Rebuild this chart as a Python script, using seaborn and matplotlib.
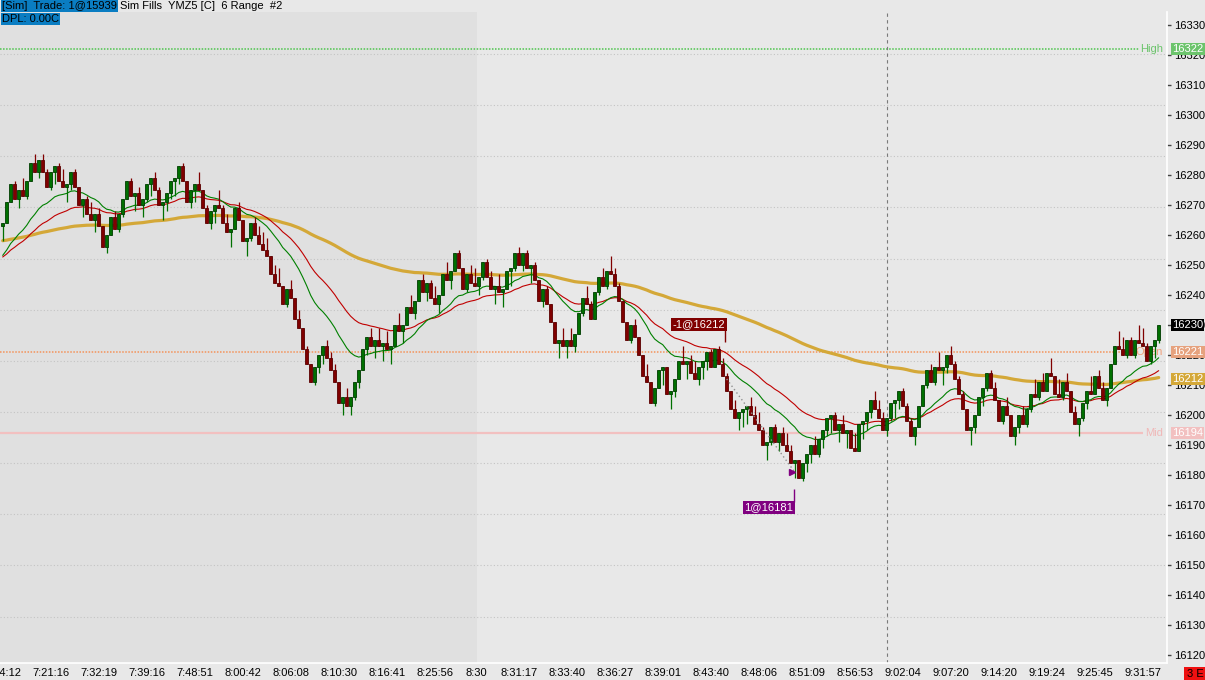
import numpy as np
import pandas as pd
import matplotlib
matplotlib.use("Agg")
import matplotlib.pyplot as plt
import matplotlib.transforms as mtransforms
import seaborn as sns

# closes of the YMZ5 6 range bars
closes = [
    16264, 16271, 16277, 16272, 16275, 16273, 16278, 16284, 16281, 16285,
    16281, 16276, 16281, 16283, 16278, 16276, 16277, 16281, 16276, 16270,
    16272, 16267, 16265, 16267, 16263, 16256, 16260, 16266, 16262, 16267,
    16272, 16278, 16273, 16274, 16270, 16272, 16277, 16279, 16275, 16270,
    16271, 16274, 16278, 16279, 16283, 16278, 16271, 16275, 16277, 16275,
    16269, 16264, 16268, 16270, 16269, 16264, 16261, 16262, 16269, 16265,
    16258, 16259, 16264, 16260, 16257, 16255, 16253, 16247, 16244, 16243,
    16237, 16242, 16239, 16232, 16229, 16222, 16217, 16211, 16216, 16220,
    16223, 16219, 16215, 16211, 16204, 16206, 16203, 16206, 16211, 16215,
    16222, 16226, 16223, 16225, 16223, 16224, 16222, 16223, 16230, 16228,
    16230, 16236, 16234, 16238, 16245, 16241, 16244, 16239, 16237, 16240,
    16247, 16245, 16248, 16254, 16249, 16242, 16247, 16244, 16243, 16246,
    16251, 16246, 16242, 16243, 16241, 16242, 16248, 16249, 16254, 16250,
    16254, 16249, 16250, 16245, 16238, 16242, 16237, 16231, 16224, 16225,
    16223, 16225, 16223, 16227, 16234, 16239, 16237, 16232, 16241, 16246,
    16243, 16248, 16247, 16243, 16238, 16231, 16225, 16230, 16226, 16220,
    16213, 16211, 16204, 16209, 16215, 16216, 16207, 16208, 16212, 16218,
    16217, 16218, 16214, 16212, 16216, 16218, 16221, 16216, 16222, 16217,
    16213, 16208, 16202, 16199, 16201, 16202, 16203, 16200, 16197, 16195,
    16190, 16191, 16196, 16191, 16194, 16190, 16188, 16184, 16185, 16179,
    16184, 16187, 16190, 16187, 16192, 16195, 16199, 16200, 16195, 16197,
    16194, 16195, 16189, 16188, 16197, 16198, 16201, 16205, 16202, 16199,
    16195, 16199, 16204, 16205, 16208, 16203, 16198, 16193, 16196, 16203,
    16210, 16215, 16211, 16216, 16215, 16216, 16220, 16217, 16212, 16207,
    16202, 16195, 16196, 16200, 16206, 16209, 16214, 16209, 16205, 16198,
    16203, 16200, 16193, 16196, 16200, 16197, 16202, 16207, 16206, 16211,
    16208, 16214, 16213, 16207, 16206, 16211, 16208, 16201, 16197, 16199,
    16204, 16208, 16207, 16213, 16209, 16205, 16209, 16217, 16223, 16222,
    16220, 16225, 16220, 16225, 16224, 16223, 16218, 16223, 16225, 16230,
]
first_open = 16263
bar_range = 6

# moving averages and the values they start from at the left edge
fast_span, slow_span, long_span = 19, 35, 130
fast_seed, slow_seed, long_seed = 16252, 16252, 16258

tick_bars = [1, 13, 25, 37, 49, 61, 73, 85, 97, 109, 119.5,
             130, 142, 154, 166, 178, 190, 202, 214, 226, 238, 250, 262, 274, 286]
tick_labels = ["7:14:12", "7:21:16", "7:32:19", "7:39:16", "7:48:51", "8:00:42",
               "8:06:08", "8:10:30", "8:16:41", "8:25:56", "8:30",
               "8:31:17", "8:33:40", "8:36:27", "8:39:01", "8:43:40", "8:48:06",
               "8:51:09", "8:56:53", "9:02:04", "9:07:20", "9:14:20", "9:19:24",
               "9:25:45", "9:31:57"]

session_bar = 119.5
cursor_bar = 222

high_level = 16322
open_level = 16221
mid_level = 16194
last_price = 16230
ma_price = 16212

sell_bar, sell_price = 182, 16212
buy_bar, buy_price = 199, 16181

# ---- data frame ----
n = len(closes)
df = pd.DataFrame({"bar": np.arange(1, n + 1), "close": closes})
# range bars: each bar opens where the previous one closed
df["open"] = [first_open] + closes[:-1]
up = df["close"] >= df["open"]
df["high"] = np.where(up, df["close"], np.maximum(df["open"], df["close"] + bar_range))
df["low"] = np.where(up, np.minimum(df["open"], df["close"] - bar_range), df["close"])


def ema(seed, span):
    s = pd.Series([seed] + closes, dtype=float)
    return s.ewm(span=span, adjust=False).mean().iloc[1:].to_numpy()


df["fast"] = ema(fast_seed, fast_span)
df["slow"] = ema(slow_seed, slow_span)
df["long"] = ema(long_seed, long_span)

# ---- style ----
sns.set_theme(style="white", rc={"axes.facecolor": "#e8e8e8",
                                 "figure.facecolor": "#e8e8e8"})
plt.rcParams["font.family"] = ["Liberation Sans", "DejaVu Sans"]

W, H = 1205, 680
fig = plt.figure(figsize=(W / 100, H / 100), dpi=100)
ax = fig.add_axes([0, 17 / H, 1167 / W, 651 / H])

x_left = 0.325
x_right = 292.08
ax.set_xlim(x_left, x_right)
ax.set_ylim(16117.33, 16334.33)

# pre-market shading
ax.axvspan(x_left, session_bar, color="#e0e0e0", zorder=0, lw=0)

# dotted grid (evenly spaced in pixels on the original)
for g in np.arange(16320.33, 16120, -17.05):
    ax.axhline(g, color="#c4c4c4", lw=0.8, ls=(0, (1, 2)), zorder=1)

# levels
ax.hlines(high_level, x_left, 285, color="#4cc44c", lw=1.1, ls=(0, (1, 1)), zorder=2)
ax.hlines(open_level, x_left, 285, color="#f4935a", lw=1.1, ls=(0, (1, 1)), zorder=2)
ax.hlines(mid_level, x_left, 286, color="#f2c0c0", lw=1.6, zorder=2)
ax.axvline(cursor_bar, color="#7a7a7a", lw=0.8, ls=(0, (3, 3)), zorder=2)

# moving averages
sns.lineplot(data=df, x="bar", y="long", ax=ax, color="#d4a838", lw=2.3, zorder=3)
sns.lineplot(data=df, x="bar", y="slow", ax=ax, color="#c00000", lw=0.8, zorder=3)
sns.lineplot(data=df, x="bar", y="fast", ax=ax, color="#008000", lw=0.8, zorder=3)

# candles
col = np.where(up, "#007000", "#800000")
edge = np.where(up, "#003c00", "#5a0000")
ax.vlines(df["bar"], df["low"], df["high"], colors=col, lw=0.9, zorder=4)
body_bot = np.minimum(df["open"], df["close"])
body_h = np.maximum((df["close"] - df["open"]).abs(), 0.8)
ax.bar(df["bar"], body_h, bottom=body_bot, width=0.75, color=col,
       edgecolor=edge, linewidth=0.6, zorder=5)

# trade markers
ax.plot([sell_bar, buy_bar], [sell_price, buy_price], color="#909090",
        lw=1, ls=(0, (1, 2)), zorder=6)
ax.vlines(sell_bar - 0.4, sell_price + 12.3, sell_price + 20.3, color="#800000", lw=1, zorder=6)
ax.text(sell_bar - 0.4, sell_price + 18.2, "-1@16212", ha="right", va="center",
        color="white", fontsize=8, zorder=7,
        bbox=dict(boxstyle="square,pad=0.15", fc="#800000", ec="none"))
ax.vlines(buy_bar - 0.2, buy_price - 10, buy_price - 5.7, color="#800080", lw=1, zorder=6)
ax.text(buy_bar - 0.4, buy_price - 11.8, "1@16181", ha="right", va="center",
        color="white", fontsize=8, zorder=7,
        bbox=dict(boxstyle="square,pad=0.15", fc="#800080", ec="none"))
ax.plot([buy_bar - 0.6], [buy_price], marker=">", ms=4, color="#800080", zorder=7)

# axes and ticks
for s in ["left", "top"]:
    ax.spines[s].set_visible(False)
for s in ["right", "bottom"]:
    ax.spines[s].set_color("white")
    ax.spines[s].set_linewidth(1.2)
ax.yaxis.tick_right()
ax.set_yticks(np.arange(16120, 16331, 10))
ax.tick_params(axis="y", direction="out", length=3, width=1, color="#444444",
               labelsize=8, pad=2, labelcolor="black")
ax.set_xticks(tick_bars)
ax.set_xticklabels(tick_labels)
ax.tick_params(axis="x", direction="in", length=3, width=1, color="white",
               labelsize=8, pad=3.5, labelcolor="black")
ax.set_xlabel("")
ax.set_ylabel("")

# right side level labels and price tags
yt = mtransforms.blended_transform_factory(ax.transAxes, ax.transData)
tag_x = 1172 / 1167
name_x = 1163 / 1167
tags = [(high_level, "#6cc46c", "High", "#6cc46c"),
        (open_level, "#e6a27e", "Open", "#f0a07a"),
        (mid_level, "#f2c0c0", "Mid", "#f0b8b8"),
        (last_price, "black", None, None),
        (ma_price, "#d4a838", None, None)]
for lvl, bg, name, name_col in tags:
    ax.text(tag_x, lvl, str(lvl), transform=yt, ha="left", va="center",
            color="white", fontsize=8, zorder=8, clip_on=False,
            bbox=dict(boxstyle="square,pad=0.12", fc=bg, ec="none"))
    if name:
        ax.text(name_x, lvl, name, transform=yt, ha="right", va="center",
                color=name_col, fontsize=8, zorder=3.5)

# header
fig.text(2 / W, 1 - 6 / H, "[Sim]  Trade: 1@15939", ha="left", va="center",
         fontsize=8, color="black",
         bbox=dict(boxstyle="square,pad=0.12", fc="#0a7dc2", ec="none"))
fig.text(120 / W, 1 - 6 / H, "Sim Fills  YMZ5 [C]  6 Range  #2", ha="left",
         va="center", fontsize=8, color="black")
fig.text(2 / W, 1 - 19 / H, "DPL: 0.00C", ha="left", va="center",
         fontsize=8, color="black",
         bbox=dict(boxstyle="square,pad=0.12", fc="#0a7dc2", ec="none"))
fig.text(1195 / W, 6 / H, "3 E", ha="center", va="center", fontsize=8,
         color="black", bbox=dict(boxstyle="square,pad=0.2", fc="#ee1111", ec="none"))

fig.savefig("out.png", dpi=100)
